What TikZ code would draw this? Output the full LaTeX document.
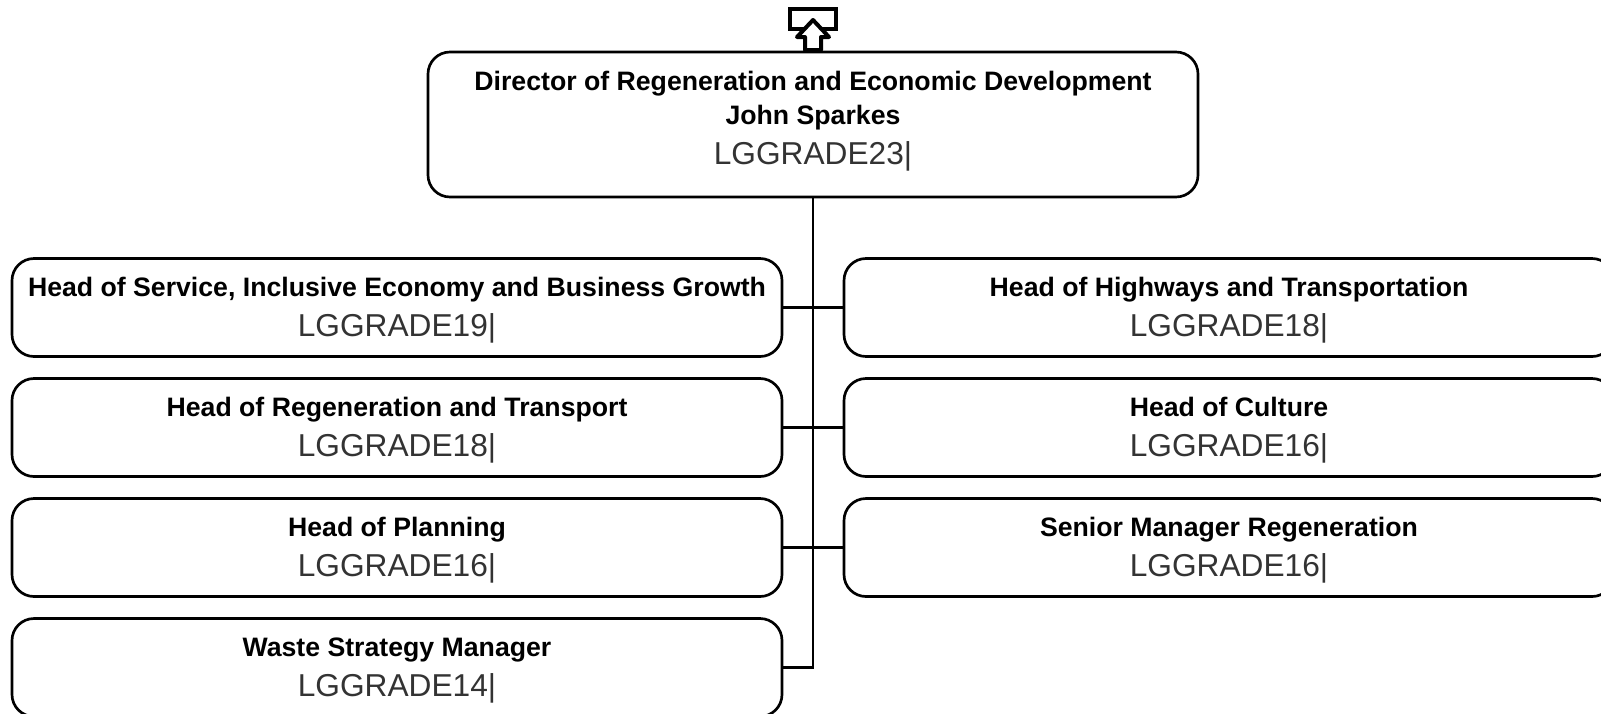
\documentclass[tikz,border=0pt]{standalone}
\usepackage{fontspec}
\setmainfont{Liberation Sans}
\definecolor{gradetext}{gray}{0.2}
\newcommand{\posttitle}[1]{{\fontsize{20pt}{24pt}\selectfont\bfseries\rule[-6pt]{0pt}{25pt}#1}}
\newcommand{\postgrade}[1]{{\fontsize{23.75pt}{28pt}\selectfont\color{gradetext}\rule[-6pt]{0pt}{29pt}#1}}
\begin{document}
\begin{tikzpicture}[x=0.75pt,y=-0.75pt,line width=2pt,
		postbox/.style={draw,rounded corners=16.5pt,minimum width=577.5pt,minimum height=73.5pt,align=center,inner sep=0pt},
		topbox/.style={postbox,minimum height=108.75pt}]
			\useasboundingbox (0,0) rectangle (1601,713.5);
			\node [topbox] (director) at (813,124.5) {\posttitle{Director of Regeneration and Economic Development}\\\posttitle{John Sparkes}\\\postgrade{LGGRADE23|}\rule[-14.5pt]{0pt}{0pt}};
			\node [postbox] (inclusive) at (397,307.5) {\posttitle{Head of Service, Inclusive Economy and Business Growth}\\\postgrade{LGGRADE19|}};
			\node [postbox] (regeneration) at (397,427.5) {\posttitle{Head of Regeneration and Transport}\\\postgrade{LGGRADE18|}};
			\node [postbox] (planning) at (397,547.5) {\posttitle{Head of Planning}\\\postgrade{LGGRADE16|}};
			\node [postbox] (waste) at (397,667.5) {\posttitle{Waste Strategy Manager}\\\postgrade{LGGRADE14|}};
			\node [postbox] (highways) at (1229,307.5) {\posttitle{Head of Highways and Transportation}\\\postgrade{LGGRADE18|}};
			\node [postbox] (culture) at (1229,427.5) {\posttitle{Head of Culture}\\\postgrade{LGGRADE16|}};
			\node [postbox] (senior) at (1229,547.5) {\posttitle{Senior Manager Regeneration}\\\postgrade{LGGRADE16|}};
			\draw (director.south) |- (waste.east);
			\draw (inclusive.east) -- (highways.west);
			\draw (regeneration.east) -- (culture.west);
			\draw (planning.east) -- (senior.west);
			\draw [line width=3pt] (790,9) rectangle (836,29);
			\draw [line width=3pt,fill=white,line join=round] (813,20) -- (829,37) -- (821,37) -- (821,50) -- (805,50) -- (805,37) -- (797,37) -- cycle;
		\end{tikzpicture}
\end{document}
